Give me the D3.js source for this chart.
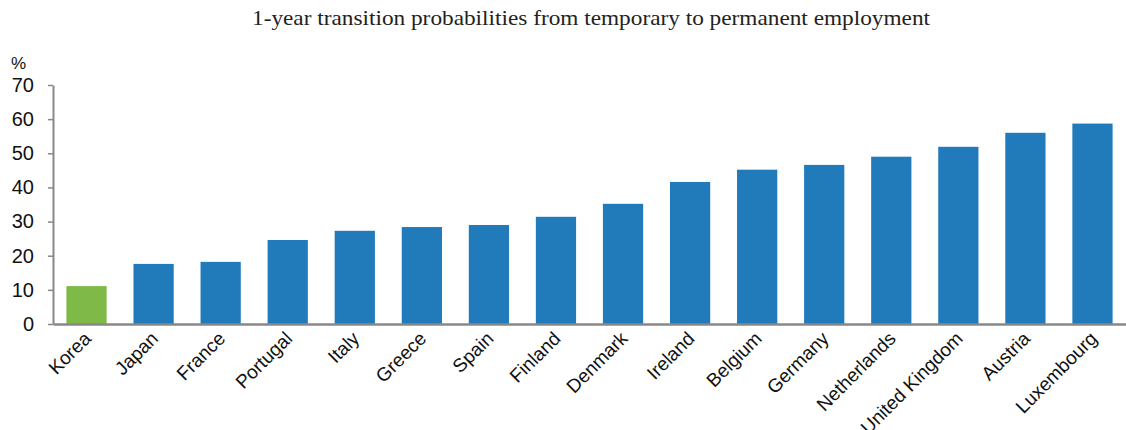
<!DOCTYPE html>
<html>
<head>
<meta charset="utf-8">
<script src="https://cdn.jsdelivr.net/npm/d3@7"></script>
<style>
  body { margin: 0; background: #fff; }
  svg { display: block; }
</style>
</head>
<body>
<script>
// data
const countries = ["Korea", "Japan", "France", "Portugal", "Italy", "Greece", "Spain", "Finland",
    "Denmark", "Ireland", "Belgium", "Germany", "Netherlands", "United Kingdom", "Austria", "Luxembourg"];
const values = [11.1, 17.6, 18.2, 24.6, 27.3, 28.4, 29.0, 31.4, 35.2, 41.6, 45.2, 46.6, 49.0, 51.9, 56.0, 58.7];
const yTicks = [0, 10, 20, 30, 40, 50, 60, 70];
const highlight = "Korea";

const width = 1126, height = 430;
const margin = { top: 85, right: 0, bottom: 106, left: 53 };

const data = countries.map((c, i) => ({ name: c, value: values[i] }));

const svg = d3.select("body").append("svg")
    .attr("width", width)
    .attr("height", height);

const x = d3.scaleBand()
    .domain(countries)
    .range([margin.left, width - margin.right])
    .paddingInner(0.4)
    .paddingOuter(0.2);

const y = d3.scaleLinear()
    .domain([0, 70])
    .range([height - margin.bottom, margin.top]);

svg.append("text")
    .attr("x", 591)
    .attr("y", 25)
    .attr("text-anchor", "middle")
    .attr("textLength", 678)
    .attr("lengthAdjust", "spacingAndGlyphs")
    .style("font", "21px 'Liberation Serif', serif")
    .style("fill", "#222")
    .text("1-year transition probabilities from temporary to permanent employment");

svg.append("g")
    .selectAll("rect")
    .data(data)
    .join("rect")
    .attr("x", d => x(d.name))
    .attr("y", d => y(d.value))
    .attr("width", x.bandwidth())
    .attr("height", d => y(0) - y(d.value))
    .attr("fill", d => d.name === highlight ? "#7fba48" : "#217bbb");

// y axis
const yAxis = svg.append("g")
    .attr("transform", `translate(${margin.left},0)`)
    .call(d3.axisLeft(y).tickValues(yTicks).tickSize(5).tickPadding(20).tickSizeOuter(0));
yAxis.select(".domain").attr("stroke", "#888").attr("stroke-width", 2);
yAxis.selectAll(".tick line").attr("stroke", "#888").attr("stroke-width", 1.5);
yAxis.selectAll(".tick text")
    .attr("x", -19)
    .style("font", "20px 'Liberation Sans', Arial, sans-serif")
    .style("fill", "#111");

svg.append("text")
    .attr("x", 11)
    .attr("y", 69)
    .style("font", "17px 'Liberation Sans', Arial, sans-serif")
    .style("fill", "#111")
    .text("%");

// x axis
const xAxis = svg.append("g")
    .attr("transform", `translate(0,${y(0)})`)
    .call(d3.axisBottom(x).tickSize(0).tickSizeOuter(0));
xAxis.select(".domain").attr("stroke", "#888").attr("stroke-width", 2.5);
xAxis.selectAll(".tick text")
    .attr("x", 0)
    .attr("y", 0)
    .attr("dy", "0.35em")
    .attr("text-anchor", "end")
    .attr("transform", "translate(1,11) rotate(-45)")
    .style("font", "19px 'Liberation Sans', Arial, sans-serif")
    .style("fill", "#111");
</script>
</body>
</html>
